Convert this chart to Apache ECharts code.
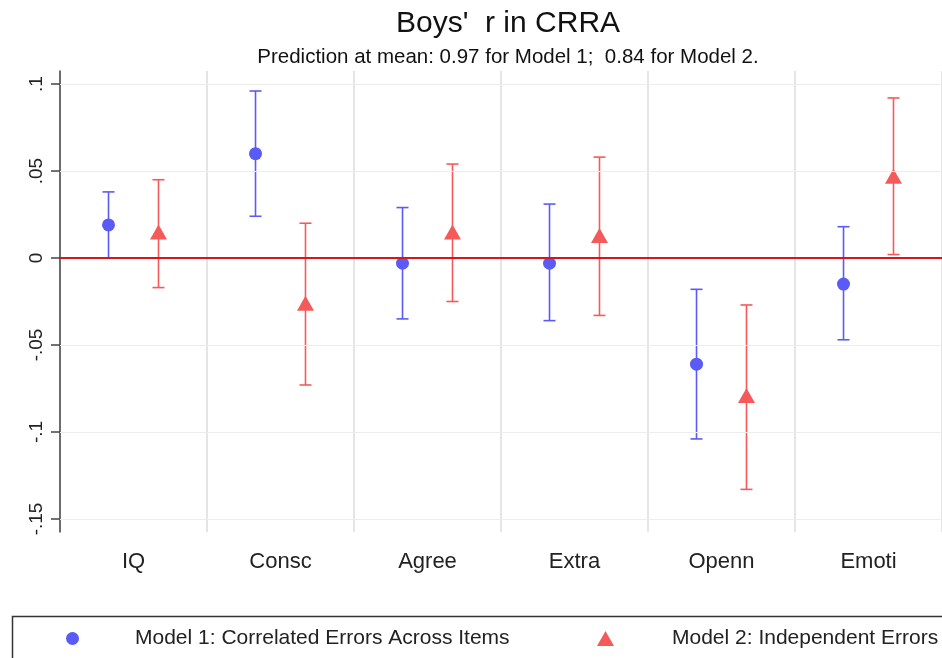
<!DOCTYPE html>
<html>
<head>
<meta charset="utf-8">
<title>Boys' r in CRRA</title>
<script src="https://cdn.jsdelivr.net/npm/echarts@6/dist/echarts.min.js"></script>
<style>
  html, body { margin: 0; padding: 0; background: #ffffff; }
  #chart { width: 942px; height: 658px; }
</style>
</head>
<body>
<div id="chart"></div>
<script>
// Personality traits on the horizontal axis
const categories = ['IQ', 'Consc', 'Agree', 'Extra', 'Openn', 'Emoti'];

// Model 1: point estimates and confidence bounds
const model1Est = [0.019, 0.060, -0.003, -0.003, -0.061, -0.015];
const model1Lo  = [0.000, 0.024, -0.035, -0.036, -0.104, -0.047];
const model1Hi  = [0.038, 0.096,  0.029,  0.031, -0.018,  0.018];

// Model 2: point estimates and confidence bounds
const model2Est = [0.015, -0.026, 0.015, 0.013, -0.079, 0.047];
const model2Lo  = [-0.017, -0.073, -0.025, -0.033, -0.133, 0.002];
const model2Hi  = [0.045,  0.020,  0.054,  0.058, -0.027, 0.092];

// Vertical axis ticks and their labels
const yTicks      = [-0.15, -0.1, -0.05, 0, 0.05, 0.1];
const yTickLabels = ['-.15', '-.1', '-.05', '0', '.05', '.1'];

const model1Name = 'Model 1: Correlated Errors Across Items';
const model2Name = 'Model 2: Independent Errors';
const blue = '#5A5AF6';
const red = '#F45A5A';
const FONT = '"Liberation Sans", Arial, Helvetica, sans-serif';

const chart = echarts.init(document.getElementById('chart'), null, { renderer: 'canvas' });

// Error bar with caps plus a marker; side = -1 (left of band centre) or +1 (right)
function makeRenderer(side, marker, color) {
  return function (params, api) {
    const idx = api.value(0);
    const est = api.value(1), lo = api.value(2), hi = api.value(3);
    const band = api.size([1, 0])[0];
    const off = side * band * 0.17;
    const pE = api.coord([idx, est]);
    const pL = api.coord([idx, lo]);
    const pH = api.coord([idx, hi]);
    const x = pE[0] + off;
    const cap = 6;
    const lineStyle = { stroke: color, lineWidth: 1.6 };
    const children = [
      { type: 'line', shape: { x1: x, y1: pH[1], x2: x, y2: pL[1] }, style: lineStyle },
      { type: 'line', shape: { x1: x - cap, y1: pH[1], x2: x + cap, y2: pH[1] }, style: lineStyle },
      { type: 'line', shape: { x1: x - cap, y1: pL[1], x2: x + cap, y2: pL[1] }, style: lineStyle }
    ];
    if (marker === 'circle') {
      children.push({ type: 'circle', shape: { cx: x, cy: pE[1], r: 6.5 }, style: { fill: color } });
    } else {
      const w = 8.5, h = 7.5;
      children.push({
        type: 'polygon',
        shape: { points: [[x, pE[1] - h], [x + w, pE[1] + h], [x - w, pE[1] + h]] },
        style: { fill: color }
      });
    }
    return { type: 'group', children: children };
  };
}

const model1Data = categories.map((c, i) => [i, model1Est[i], model1Lo[i], model1Hi[i]]);
const model2Data = categories.map((c, i) => [i, model2Est[i], model2Lo[i], model2Hi[i]]);

const option = {
  backgroundColor: '#ffffff',
  animation: false,
  title: [
    {
      text: "Boys'  r in CRRA",
      left: 503, top: 4, textAlign: 'center',
      textStyle: { fontFamily: FONT, fontSize: 30, fontWeight: 'normal', color: '#111' }
    },
    {
      text: 'Prediction at mean: 0.97 for Model 1;  0.84 for Model 2.',
      left: 503, top: 42, textAlign: 'center',
      textStyle: { fontFamily: FONT, fontSize: 20.5, fontWeight: 'normal', color: '#111' }
    }
  ],
  grid: { left: 60, top: 71, width: 886, height: 461, containLabel: false },
  xAxis: {
    type: 'category',
    data: categories,
    boundaryGap: true,
    axisLine: { lineStyle: { color: '#444', width: 1.5 } },
    axisTick: { alignWithLabel: true, length: 7, lineStyle: { color: '#444', width: 1.5 } },
    axisLabel: { fontFamily: FONT, fontSize: 22, color: '#222', margin: 19 },
    splitLine: { show: true, lineStyle: { color: '#DCDCDC', width: 1.5 } }
  },
  yAxis: {
    type: 'value',
    min: -0.1575, max: 0.1075,
    axisLine: { show: true, lineStyle: { color: '#444', width: 1.5 } },
    axisTick: { show: true, length: 9, customValues: yTicks, lineStyle: { color: '#444', width: 1.5 } },
    axisLabel: {
      show: true, customValues: yTicks, rotate: 90, margin: 14,
      fontFamily: FONT, fontSize: 19, color: '#222',
      formatter: function (v) {
        const i = yTicks.findIndex(t => Math.abs(t - v) < 1e-9);
        return i >= 0 ? yTickLabels[i] : '';
      }
    },
    splitLine: { show: false }
  },
  legend: [
    {
      left: 61, top: 623,
      data: [{ name: model1Name, icon: 'circle' }],
      itemWidth: 13, itemHeight: 13,
      selectedMode: false,
      textStyle: { fontFamily: FONT, fontSize: 21, color: '#222', padding: [0, 0, 0, 51] }
    },
    {
      left: 592, top: 623,
      data: [{ name: model2Name, icon: 'triangle' }],
      itemWidth: 17, itemHeight: 15,
      selectedMode: false,
      textStyle: { fontFamily: FONT, fontSize: 21, color: '#222', padding: [0, 0, 0, 53] }
    }
  ],
  graphic: [
    {
      type: 'rect', left: 10, top: 614, silent: true,
      shape: { width: 960, height: 60 },
      style: { fill: 'none', stroke: '#333', lineWidth: 1.5 }
    }
  ],
  series: [
    {
      // faint horizontal grid at each labelled tick, plus the red zero reference
      type: 'line', data: [], silent: true, z: 1,
      markLine: {
        silent: true, symbol: 'none', animation: false,
        label: { show: false },
        data: yTicks.filter(v => v !== 0).map(v => ({ yAxis: v, lineStyle: { color: '#ECEEEC', width: 1.2, type: 'solid' } }))
          .concat([{ yAxis: 0, lineStyle: { color: '#D8141C', width: 2, type: 'solid' } }])
      }
    },
    {
      name: model1Name, type: 'custom', z: 3,
      itemStyle: { color: blue },
      renderItem: makeRenderer(-1, 'circle', blue),
      encode: { x: 0, y: [1, 2, 3] },
      data: model1Data
    },
    {
      name: model2Name, type: 'custom', z: 3,
      itemStyle: { color: red },
      renderItem: makeRenderer(1, 'triangle', red),
      encode: { x: 0, y: [1, 2, 3] },
      data: model2Data
    }
  ]
};

chart.setOption(option);
</script>
</body>
</html>
